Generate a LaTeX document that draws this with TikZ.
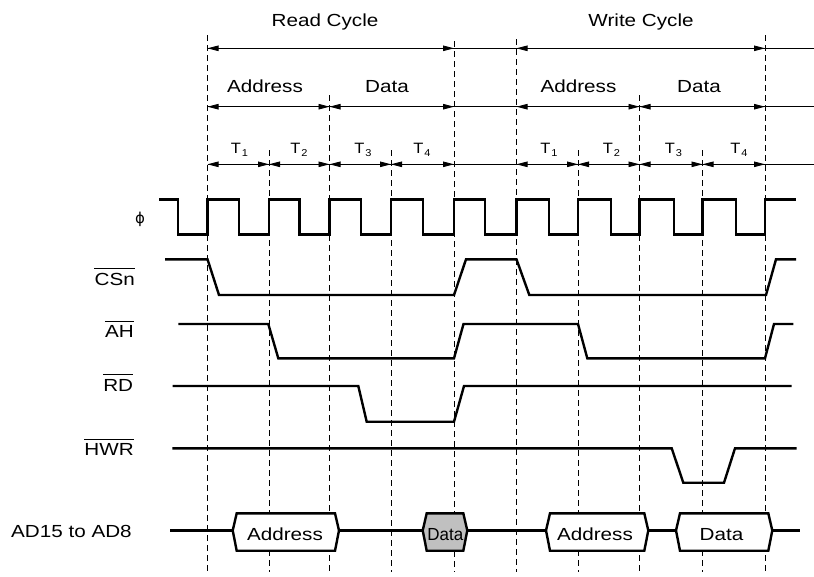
\documentclass[tikz,border=0pt]{standalone}
\usepackage{fontspec}
\setmainfont{Liberation Sans}
\newfontfamily\phifont{DejaVu Sans}
\usetikzlibrary{arrows.meta}
\definecolor{busgrey}{RGB}{192,192,192}
\newcommand{\hstretch}[1]{\scalebox{1.18}[1]{#1}}
\newcommand{\tstate}[1]{\scalebox{1.1}[1]{T\kern0.8pt\raisebox{-3.6pt}{\fontsize{10}{10}\selectfont #1}}}
\tikzset{
  sig/.style={line width=2.4pt, line join=miter},
  gridline/.style={line width=0.9pt, dash pattern=on 6pt off 4pt},
  dimline/.style={line width=0.9pt},
  dimarrow/.style={line width=0.9pt, {Triangle[length=11pt,width=5.5pt]}-{Triangle[length=11pt,width=5.5pt]}},
  lbl/.style={font=\fontsize{17.5}{20}\selectfont, inner sep=0pt},
  tlbl/.style={font=\fontsize{15}{17}\selectfont, inner sep=0pt, anchor=base},
  bus/.style={line width=2.4pt, line join=miter},
}
\begin{document}
\begin{tikzpicture}[x=1pt,y=-1pt]
\useasboundingbox (0,0) rectangle (814,576);

% grid (dashed) lines
\foreach \gx/\gtop in {207.5/35, 454/41, 516.5/39, 765/35, 329.5/95, 639.5/95, 269/150, 391/150, 578/150, 702.5/150}{
  \draw[gridline] (\gx,\gtop) -- (\gx,572);
}

% dimension rows
\foreach \ry in {48.3, 106.7, 164.3}{
  \draw[dimline] (207.5,\ry) -- (814,\ry);
}
\draw[dimarrow] (207.5,48.3) -- (454,48.3);
\draw[dimarrow] (516.5,48.3) -- (765,48.3);
\foreach \ax/\bx in {207.5/329.5, 329.5/454, 516.5/639.5, 639.5/765}{
  \draw[dimarrow] (\ax,106.7) -- (\bx,106.7);
}
\foreach \ax/\bx in {207.5/269, 269/329.5, 329.5/391, 391/454, 516.5/578, 578/639.5, 639.5/702.5, 702.5/765}{
  \draw[dimarrow] (\ax,164.3) -- (\bx,164.3);
}

% top labels
\node[lbl, anchor=base] (readcyc) at (325,26.7) {\hstretch{Read Cycle}};
\node[lbl, anchor=base] (writecyc) at (641,26.7) {\hstretch{Write Cycle}};
\node[lbl, anchor=base] (raddr) at (265,92) {\hstretch{Address}};
\node[lbl, anchor=base] (rdata) at (387,92) {\hstretch{Data}};
\node[lbl, anchor=base] (waddr) at (578.5,92) {\hstretch{Address}};
\node[lbl, anchor=base] (wdata) at (699,92) {\hstretch{Data}};

\node[tlbl] (rt1) at (239.5,153.3) {\tstate{1}};
\node[tlbl] (rt2) at (299,153.3) {\tstate{2}};
\node[tlbl] (rt3) at (363,153.3) {\tstate{3}};
\node[tlbl] (rt4) at (422,153.3) {\tstate{4}};
\node[tlbl] (wt1) at (549,153.3) {\tstate{1}};
\node[tlbl] (wt2) at (611.5,153.3) {\tstate{2}};
\node[tlbl] (wt3) at (673.5,153.3) {\tstate{3}};
\node[tlbl] (wt4) at (739,153.3) {\tstate{4}};

% signal labels
\node[inner sep=0pt, font=\fontsize{15}{17}\phifont] (phi) at (140,219) {\char"03D5};
\node[lbl, anchor=base east] (csn) at (135,285) {\hstretch{CSn}};
\node[lbl, anchor=base east] (ah) at (134,337.7) {\hstretch{AH}};
\node[lbl, anchor=base east] (rd) at (133.3,391) {\hstretch{RD}};
\node[lbl, anchor=base east] (hwr) at (134,455.7) {\hstretch{HWR}};
\node[lbl, anchor=base west] (ad) at (11,537.3) {\hstretch{AD15 to AD8}};
\foreach \n in {csn, ah, rd, hwr}{
  \draw[line width=0.9pt] ([yshift=4.5pt]\n.north west) -- ([yshift=4.5pt]\n.north east);
}

% clock
\draw[sig] (159.3,199.3) -- (177.7,199.3) -- (177.7,234.3)
  \foreach \r/\f/\nx in {207.5/238.8/269, 269/299.3/329.5, 329.5/360.7/391, 391/422.7/454, 454/485/516.5, 516.5/549/578, 578/610.7/639.5, 639.5/674/702.5, 702.5/735.7/765}{
    -- (\r,234.3) -- (\r,199.3) -- (\f,199.3) -- (\f,234.3)
  } -- (765,234.3) -- (765,199.3) -- (796,199.3);

% CSn
\draw[sig] (165,259.3) -- (207.5,259.3) -- (219,295) -- (454,295) -- (466,259.3)
  -- (516.5,259.3) -- (529.3,295) -- (766,295) -- (776,259.3) -- (796,259.3);
% AH
\draw[sig] (178.3,324) -- (268.3,324) -- (278.3,358.3) -- (454,358.3) -- (463.5,324)
  -- (578,324) -- (587.3,358.3) -- (765,358.3) -- (774,324) -- (793.3,324);
% RD
\draw[sig] (172.7,386) -- (358.3,386) -- (366.7,421.7) -- (454,421.7) -- (464,386) -- (791.7,386);
% HWR
\draw[sig] (172.3,448.3) -- (671.7,448.3) -- (683.3,482.7) -- (724,482.7) -- (735,448.3) -- (796.7,448.3);

% bus
\draw[bus] (170,530.5) -- (800,530.5);
\foreach \xa/\xb/\fc in {232.7/339/white, 422.7/467.3/busgrey, 546/648.3/white, 676/772.3/white}{
  \draw[bus, fill=\fc] (\xa,530.5) -- (\xa+4,513.3) -- (\xb-4,513.3) -- (\xb,530.5)
    -- (\xb-4,550.7) -- (\xa+4,550.7) -- cycle;
}
\node[lbl, anchor=base] (baddr1) at (285,540) {\hstretch{Address}};
\node[lbl, anchor=base] (bdata1) at (445.3,540) {\scalebox{0.97}[1]{Data}};
\node[lbl, anchor=base] (baddr2) at (595,540) {\hstretch{Address}};
\node[lbl, anchor=base] (bdata2) at (721.5,540) {\hstretch{Data}};
\end{tikzpicture}
\end{document}
